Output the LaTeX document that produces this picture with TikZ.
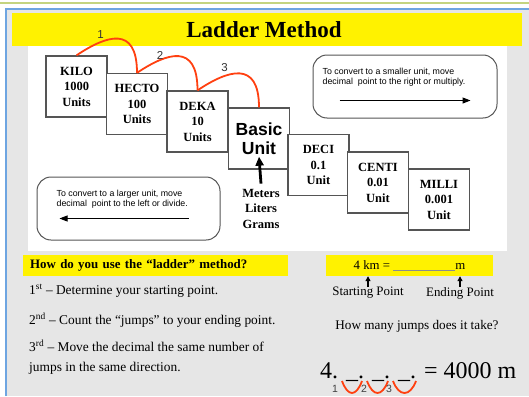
\documentclass[tikz,border=0pt]{standalone}
\usepackage{fontspec}
\setmainfont{Liberation Serif}
\setsansfont{Liberation Sans}
\usetikzlibrary{arrows.meta}
\definecolor{slidegray}{RGB}{230,230,230}
\definecolor{framegreen}{RGB}{196,212,128}
\definecolor{frameblue}{RGB}{110,165,225}
\definecolor{jumpred}{RGB}{255,64,16}
\definecolor{boxline}{RGB}{85,85,85}
\begin{document}
\begin{tikzpicture}[x=1pt, y=-1pt,
	ladderbox/.style={draw=boxline, line width=1.3pt, fill=white, minimum width=61pt, minimum height=61pt, inner sep=0pt, align=center, font=\bfseries\fontsize{12.5}{15.5}\selectfont},
	notebox/.style={draw=boxline, line width=1pt, rounded corners=14pt, minimum width=184pt, minimum height=63pt},
	notetext/.style={anchor=north west, inner sep=0pt, align=left, font=\sffamily\fontsize{8.8}{10}\selectfont},
	jumpline/.style={draw=jumpred, line width=1.8pt},
	jumpnum/.style={inner sep=0pt, font=\sffamily\fontsize{11.5}{11.5}\selectfont, text=black!80},
	thinarrow/.style={-{Triangle[length=8pt,width=6pt]}, line width=1pt},
	steptext/.style={anchor=west, inner sep=0pt, align=left, font=\fontsize{13.4}{20}\selectfont}]
	\useasboundingbox (0,0) rectangle (529,396);
	\fill[white] (0,0) rectangle (529,396);
	\fill[slidegray] (6,9) rectangle (529,396);
	\draw[framegreen, line width=2.5pt] (0,3) -- (529,3);
	\draw[frameblue, line width=1.2pt] (6,396) -- (6,9) -- (529,9);
	\fill[yellow] (12,13) rectangle (522,46);
	\fill[white] (28,46) rectangle (507,251);
	\node[font=\bfseries\fontsize{23}{23}\selectfont] (title) at (264,30) {Ladder Method};
	\node[ladderbox] (kilo) at (76.5,86.5) {KILO\\1000\\Units};
	\node[ladderbox] (hecto) at (137,104) {HECTO\\100\\Units};
	\node[ladderbox] (deka) at (197.5,121.5) {DEKA\\10\\Units};
	\node[ladderbox, font=\sffamily\bfseries\fontsize{17.5}{19}\selectfont] (basic) at (259,138.5) {Basic\\Unit};
	\node[ladderbox] (deci) at (318.5,165) {DECI\\0.1\\Unit};
	\node[ladderbox] (centi) at (378,182.5) {CENTI\\0.01\\Unit};
	\node[ladderbox] (milli) at (439,199.5) {MILLI\\0.001\\Unit};
	\foreach \src/\dst/\n/\dx/\dy in {kilo/hecto/1/24/-21, hecto/deka/2/23/-17, deka/basic/3/27/-23}{
		\draw[jumpline] (\src.north) .. controls +(30,-20) and +(0,-48) .. (\dst.north);
		\node[jumpnum] at ([shift={(\dx,\dy)}]\src.north) {\n};
	}
	\node[notebox] (tosmaller) at (405,86.5) {};
	\node[notetext] (smallertext) at ([shift={(10,13)}]tosmaller.north west) {To convert to a smaller unit, move\\decimal\ \ point to the right or multiply.};
	\coordinate (smallerstart) at ([shift={(27,-18)}]tosmaller.south west);
	\coordinate (smallerend) at ([shift={(-27,-18)}]tosmaller.south east);
	\draw[thinarrow] (smallerstart) -- (smallerend);
	\node[notebox, minimum width=183pt] (tolarger) at (128.5,208.5) {};
	\node[notetext] (largertext) at ([shift={(20,13)}]tolarger.north west) {To convert to a larger unit, move\\decimal\ \ point to the left or divide.};
	\coordinate (largerstart) at ([shift={(-32,-22)}]tolarger.south east);
	\coordinate (largerend) at ([shift={(23,-22)}]tolarger.south west);
	\draw[thinarrow] (largerstart) -- (largerend);
	\node[align=center, inner sep=0pt, font=\bfseries\fontsize{12.5}{15.5}\selectfont] (quantities) at (261,208.5) {Meters\\Liters\\Grams};
	\draw[-{Triangle[length=9pt,width=8pt]}, line width=2.8pt] ([yshift=5pt]quantities.north) -- ([yshift=13pt]basic.south);
	\node[fill=yellow, anchor=north west, minimum width=265pt, minimum height=21pt, text width=251pt, inner xsep=7pt, align=left, font=\bfseries\fontsize{12.9}{14}\selectfont] (howto) at (23,255) {How do you use the “ladder” method?};
	\node[steptext] (first) at (29,291) {1\textsuperscript{st} – Determine your starting point.};
	\node[steptext] (second) at (29,320) {2\textsuperscript{nd} – Count the “jumps” to your ending point.};
	\node[steptext] (third) at (29,357) {3\textsuperscript{rd} – Move the decimal the same number of\\jumps in the same direction.};
	\node[fill=yellow, minimum width=167pt, minimum height=21pt, inner sep=0pt, font=\fontsize{12.8}{14}\selectfont] (question) at (409.5,265.5) {4 km = {\color{black!45}\rule[-1.5pt]{62pt}{0.6pt}}m};
	\node[inner sep=0pt, font=\fontsize{12.9}{14}\selectfont] (startlabel) at (368,293) {Starting Point};
	\node[inner sep=0pt, font=\fontsize{12.9}{14}\selectfont] (endlabel) at (460,293) {Ending Point};
	\draw[-{Triangle[length=5pt,width=5pt]}, line width=1.2pt] (startlabel.north) -- (startlabel.north |- question.south);
	\draw[-{Triangle[length=5pt,width=5pt]}, line width=1.2pt] (endlabel.north) -- (endlabel.north |- question.south);
	\node[inner sep=0pt, font=\fontsize{13.2}{14}\selectfont] (howmany) at (417,326) {How many jumps does it take?};
	\node[anchor=base west, inner sep=0pt, font=\fontsize{24}{24}\selectfont] (answer) at (320,378) {4. \_. \_. \_. = 4000 m};
	\foreach \xa/\xb/\n/\xl in {342/362/1/335, 367/388/2/364, 393/416/3/389}{
		\draw[jumpline] (\xa,381) .. controls (\xa+6,397) and (\xb-6,397) .. (\xb,381);
		\node[inner sep=0pt, font=\sffamily\fontsize{10.5}{10.5}\selectfont, text=black!75] at (\xl,389) {\n};
	}
\end{tikzpicture}
\end{document}
